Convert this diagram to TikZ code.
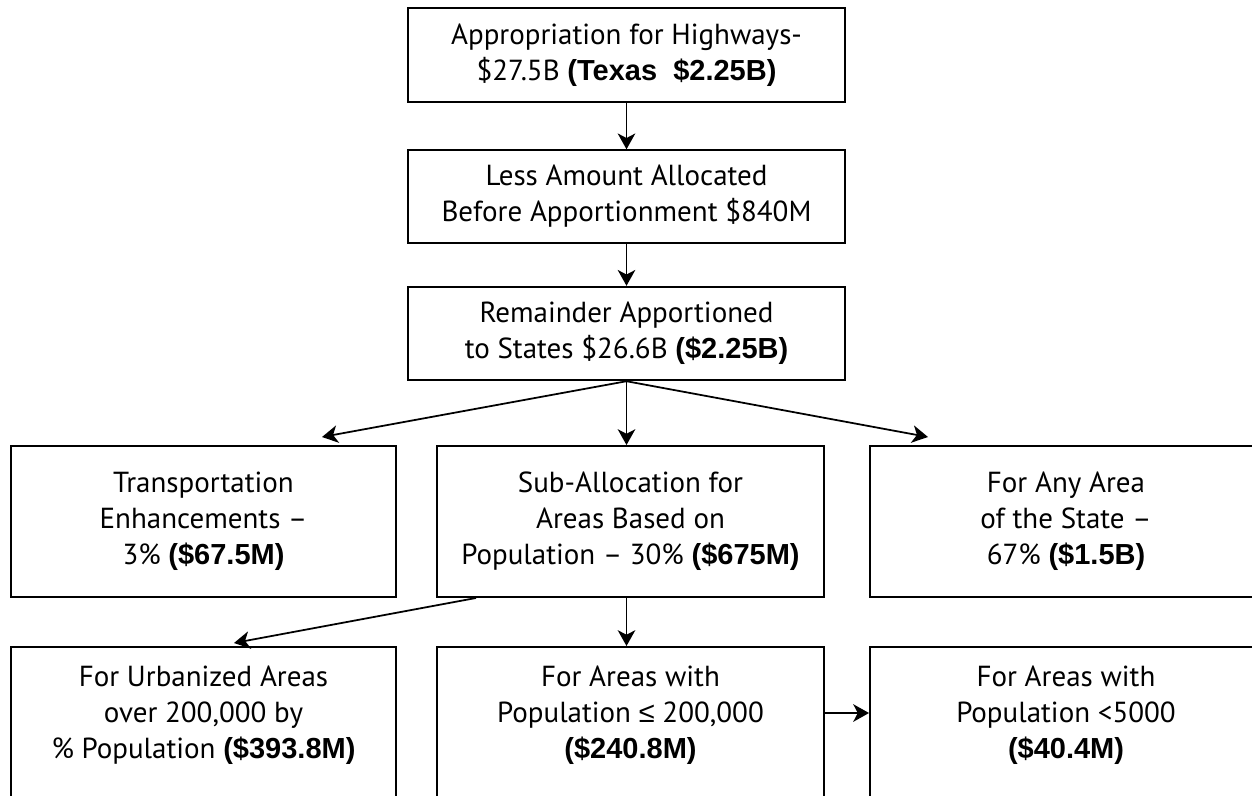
\documentclass[tikz,border=0pt]{standalone}
\usepackage{fontspec}
\setmainfont{PT Sans}
\newfontfamily\amtfont{Liberation Sans}
\newfontfamily\symfont{Liberation Sans}
\usetikzlibrary{arrows.meta}
\newcommand{\amt}[1]{{\amtfont\bfseries #1}}

\begin{document}
\begin{tikzpicture}[
		fundbox/.style={draw, line width=1.1pt, align=center, font=\fontsize{16.5}{20.5}\selectfont},
		lowbox/.style={fundbox, anchor=north, inner ysep=10.8pt, text depth=3cm},
		fundarrow/.style={-{Stealth[length=9pt,width=10pt,inset=2.6pt]}, line width=1pt}
	]
		\useasboundingbox (0,0) rectangle (25.04,-15.9);
		\clip (0,0) rectangle (25.04,-15.9);

		% Top chain: appropriation down to the states
		\node[fundbox, minimum width=8.74cm, minimum height=1.87cm] (approp) at (12.53,-1.10)
			{Appropriation for Highways-\\\$27.5B \amt{(Texas\ \ \$2.25B)}};
		\node[fundbox, minimum width=8.74cm, minimum height=1.85cm] (less) at (12.53,-3.93)
			{Less Amount Allocated\\Before Apportionment \$840M};
		\node[fundbox, minimum width=8.74cm, minimum height=1.87cm] (states) at (12.53,-6.67)
			{Remainder Apportioned\\to States \$26.6B \amt{(\$2.25B)}};

		% Split of the state share
		\node[fundbox, minimum width=7.70cm, minimum height=3.02cm] (enhance) at (4.07,-10.43)
			{Transportation\\Enhancements --\\3\% \amt{(\$67.5M)}};
		\node[fundbox, minimum width=7.74cm, minimum height=3.02cm] (suballoc) at (12.61,-10.43)
			{Sub-Allocation for\\Areas Based on\\Population -- 30\% \amt{(\$675M)}};
		\node[fundbox, minimum width=7.84cm, minimum height=3.02cm] (anyarea) at (21.32,-10.43)
			{For Any Area\\of the State --\\67\% \amt{(\$1.5B)}};

		% Sub-allocation by population (boxes run past the lower edge)
		\node[lowbox, minimum width=7.70cm] (urban) at (4.07,-12.92)
			{For Urbanized Areas\\over 200,000 by\\\% Population \amt{(\$393.8M)}};
		\node[lowbox, minimum width=7.74cm] (midsize) at (12.61,-12.92)
			{For Areas with\\Population {\symfont ≤} 200,000\\\amt{(\$240.8M)}};
		\node[lowbox, minimum width=7.84cm] (rural) at (21.32,-12.92)
			{For Areas with\\Population <5000\\\amt{(\$40.4M)}};

		\coordinate (tipL) at (6.44,-8.74);
		\coordinate (tipR) at (18.56,-8.74);
		\coordinate (tipU) at (4.68,-12.86);

		\draw[fundarrow] (approp.south) -- (less.north);
		\draw[fundarrow] (less.south) -- (states.north);
		\draw[fundarrow] (states.south) -- (tipL);
		\draw[fundarrow] (states.south) -- (states.south |- suballoc.north);
		\draw[fundarrow] (states.south) -- (tipR);
		\draw[fundarrow] ([xshift=0.8cm]suballoc.south west) -- (tipU);
		\draw[fundarrow] (states.south |- suballoc.south) -- (states.south |- midsize.north);
		\draw[fundarrow] ([yshift=-1.34cm]midsize.north east) -- ([yshift=-1.34cm]rural.north west);
	\end{tikzpicture}
\end{document}
